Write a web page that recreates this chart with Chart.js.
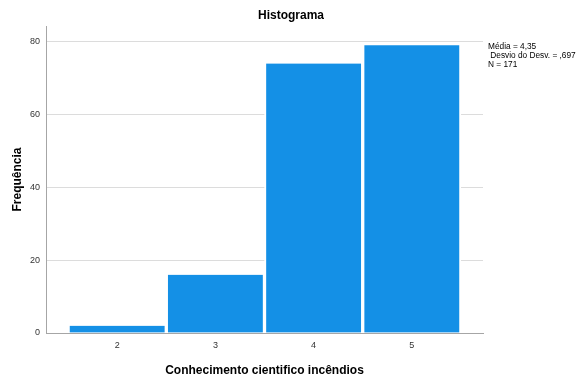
<!DOCTYPE html>
<html>
<head>
<meta charset="utf-8">
<script src="https://cdn.jsdelivr.net/npm/chart.js@4/dist/chart.umd.min.js"></script>
<style>
  html, body { margin: 0; padding: 0; background: #fff; }
  #wrap { width: 577px; height: 378px; }
</style>
</head>
<body>
<div id="wrap"><canvas id="histo" width="577" height="378"></canvas></div>
<script>
const categorias  = [2, 3, 4, 5];
const frequencias = [2, 16, 74, 79];
const yTicks      = [0, 20, 40, 60, 80];
const estatisticas = ['Média = 4,35', ' Desvio do Desv. = ,697', 'N = 171'];

const FONT = "'Liberation Sans', Arial, sans-serif";
const AZUL = '#1490e6';

const pontos = categorias.map((c, i) => ({ x: c, y: frequencias[i] }));

// titulo + caixa de estatisticas à direita
const textoExtra = {
  id: 'textoExtra',
  afterDraw(chart) {
    const ctx = chart.ctx;
    ctx.save();
    ctx.fillStyle = '#000';
    ctx.font = 'bold 12px ' + FONT;
    ctx.textAlign = 'center';
    ctx.textBaseline = 'middle';
    ctx.fillText('Histograma', 291, 16);

    ctx.font = '8.3px ' + FONT;
    ctx.textAlign = 'left';
    estatisticas.forEach((t, i) => ctx.fillText(t, 488, 46.5 + i * 9));
    ctx.restore();
  }
};

new Chart(document.getElementById('histo'), {
  type: 'bar',
  data: {
    datasets: [{
      data: pontos,
      backgroundColor: AZUL,
      borderColor: '#ffffff',
      borderWidth: { left: 2, right: 2, top: 0, bottom: 0 },
      borderSkipped: 'start',
      barPercentage: 1,
      categoryPercentage: 1
    }]
  },
  options: {
    responsive: false,
    animation: false,
    layout: { padding: { top: 26, right: 94, left: 0, bottom: 0 } },
    plugins: { legend: { display: false }, tooltip: { enabled: false }, title: { display: false } },
    scales: {
      x: {
        type: 'linear',
        offset: false,
        min: 1.275,
        max: 5.725,
        afterBuildTicks: s => { s.ticks = categorias.map(v => ({ value: v })); },
        afterFit: s => { s.height = 45; },
        grid: { display: false, drawTicks: false, offset: false },
        border: { display: true, color: '#a6a6a6', width: 1 },
        ticks: { color: '#333', font: { family: FONT, size: 9 }, padding: 7, maxRotation: 0 },
        title: {
          display: true,
          text: 'Conhecimento cientifico incêndios',
          color: '#000',
          font: { family: FONT, size: 12, weight: 'bold' },
          padding: { top: 6, bottom: 0 }
        }
      },
      y: {
        min: 0,
        max: 84.3,
        afterBuildTicks: s => { s.ticks = yTicks.map(v => ({ value: v })); },
        afterFit: s => { s.width = 46; },
        grid: { color: '#dcdcdc', lineWidth: 1, drawTicks: false },
        border: { display: true, color: '#a6a6a6', width: 1 },
        ticks: { color: '#333', font: { family: FONT, size: 9 }, padding: 6 },
        title: {
          display: true,
          text: 'Frequência',
          color: '#000',
          font: { family: FONT, size: 12, weight: 'bold' },
          padding: { top: 10, bottom: 0 }
        }
      }
    }
  },
  plugins: [textoExtra]
});
</script>
</body>
</html>
